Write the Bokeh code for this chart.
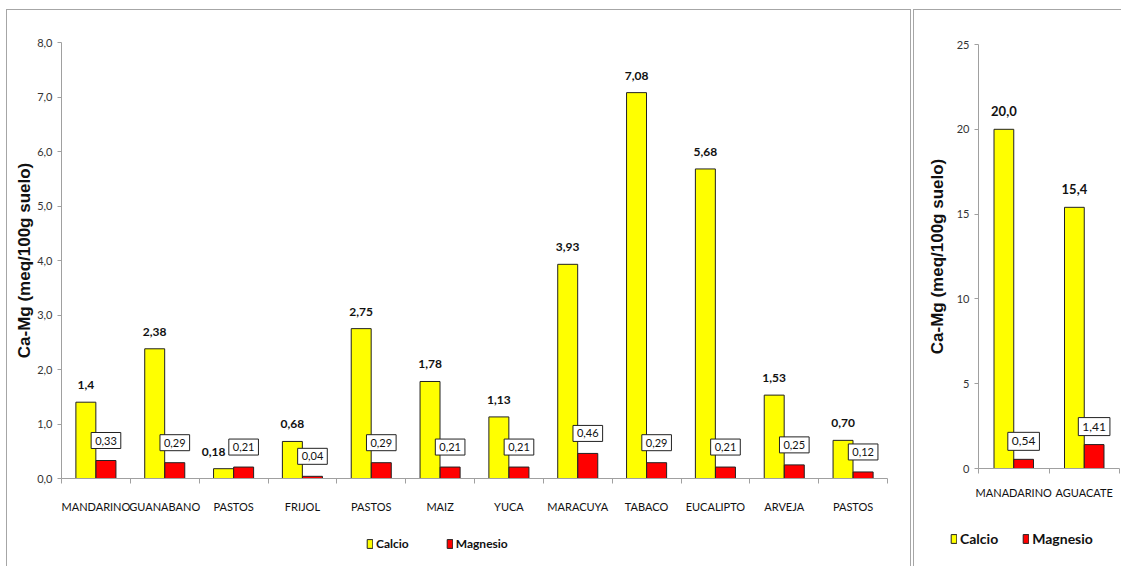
import numpy as np
from bokeh.plotting import figure
from bokeh.models import FixedTicker, Legend, LegendItem, Range1d, ColumnDataSource
from bokeh.layouts import row, column
from bokeh.embed import file_html
from bokeh.resources import INLINE
from bokeh.core.properties import value
from bokeh.transform import dodge

# ---------------- data ----------------
left_categories = ["MANDARINO", "GUANABANO", "PASTOS", "FRIJOL", "PASTOS", "MAIZ",
                   "YUCA", "MARACUYA", "TABACO", "EUCALIPTO", "ARVEJA", "PASTOS"]
left_calcio = [1.4, 2.38, 0.18, 0.68, 2.75, 1.78, 1.13, 3.93, 7.08, 5.68, 1.53, 0.70]
left_magnesio = [0.33, 0.29, 0.21, 0.04, 0.29, 0.21, 0.21, 0.46, 0.29, 0.21, 0.25, 0.12]
left_calcio_labels = ["1,4", "2,38", "0,18", "0,68", "2,75", "1,78", "1,13", "3,93",
                      "7,08", "5,68", "1,53", "0,70"]
left_magnesio_labels = ["0,33", "0,29", "0,21", "0,04", "0,29", "0,21", "0,21", "0,46",
                        "0,29", "0,21", "0,25", "0,12"]
left_y_ticks = [0, 1, 2, 3, 4, 5, 6, 7, 8]
left_y_tick_labels = ["0,0", "1,0", "2,0", "3,0", "4,0", "5,0", "6,0", "7,0", "8,0"]

right_categories = ["MANADARINO", "AGUACATE"]
right_calcio = [20.0, 15.4]
right_magnesio = [0.54, 1.41]
right_calcio_labels = ["20,0", "15,4"]
right_magnesio_labels = ["0,54", "1,41"]
right_y_ticks = [0, 5, 10, 15, 20, 25]
right_y_tick_labels = ["0", "5", "10", "15", "20", "25"]

series_names = ["Calcio", "Magnesio"]
y_title = "Ca-Mg (meq/100g suelo)"

FONT = "Lato"
AXIS_GRAY = "#a0a0a0"
BORDER = "1px solid #a6a6a6"
CA_COLOR = "#ffff00"
MG_COLOR = "#ff0000"
EDGE = "#222222"


def make_source(cats, ca, mg, ca_lab, mg_lab, yticks):
    n = len(cats)
    centers = [i + 0.5 for i in range(n)]
    span = yticks[-1] - yticks[0]
    # nudge a value label sideways when it would collide with the neighbouring box
    nudge = [-10 if (c - m) < 0.03 * span else 0 for c, m in zip(ca, mg)]
    return ColumnDataSource(dict(x=centers, ca=ca, mg=mg, ca_lab=ca_lab, mg_lab=mg_lab,
                                 nudge=nudge)), centers


def make_chart(src, centers, cats, yticks, ytick_labels,
               width, height, mb_left, mb_top, mb_bottom, mb_right, styles,
               bar_off, bar_w, fs_val, fs_box, fs_cat, fs_tick,
               box_gap, cat_standoff, ylab_standoff, box_pad):
    n = len(cats)
    p = figure(width=width, height=height, output_backend="svg", toolbar_location=None,
               x_range=Range1d(0, n), y_range=Range1d(yticks[0], yticks[-1]),
               min_border_left=mb_left, min_border_top=mb_top,
               min_border_bottom=mb_bottom, min_border_right=mb_right)
    p.outline_line_color = None
    p.xgrid.visible = False
    p.ygrid.visible = False
    p.background_fill_color = "white"
    p.border_fill_color = "white"
    p.styles = styles

    p.vbar(x=dodge("x", -bar_off), top="ca", width=bar_w, source=src,
           fill_color=CA_COLOR, line_color=EDGE, line_width=1)
    p.vbar(x=dodge("x", bar_off), top="mg", width=bar_w, source=src,
           fill_color=MG_COLOR, line_color=EDGE, line_width=1)

    p.text(x=dodge("x", -bar_off), y="ca", text="ca_lab", source=src,
           anchor="bottom_center", y_offset=-13, x_offset="nudge",
           text_font=value(FONT), text_font_style="bold", text_font_size=f"{fs_val}px",
           text_color="#111111")
    p.text(x=dodge("x", bar_off), y="mg", text="mg_lab", source=src,
           anchor="bottom_center", y_offset=-box_gap, padding=box_pad,
           background_fill_color="white", border_line_color=EDGE, border_line_width=1,
           text_font=value(FONT), text_font_size=f"{fs_box}px", text_color="#111111")

    # x axis: labels at centers, ticks at category boundaries
    xa = p.xaxis[0]
    xa.ticker = FixedTicker(ticks=centers, minor_ticks=list(range(n + 1)))
    xa.major_label_overrides = {c: name for c, name in zip(centers, cats)}
    xa.major_tick_out = 0
    xa.major_tick_in = 0
    xa.minor_tick_out = 5
    xa.minor_tick_in = 0
    xa.minor_tick_line_color = AXIS_GRAY
    xa.axis_line_color = AXIS_GRAY
    xa.major_label_standoff = cat_standoff
    xa.major_label_text_font = FONT
    xa.major_label_text_font_size = f"{fs_cat}px"
    xa.major_label_text_color = "#111111"

    ya = p.yaxis[0]
    ya.ticker = FixedTicker(ticks=yticks)
    ya.major_label_overrides = {t: l for t, l in zip(yticks, ytick_labels)}
    ya.major_tick_out = 4
    ya.major_tick_in = 0
    ya.minor_tick_out = 0
    ya.minor_tick_in = 0
    ya.major_tick_line_color = AXIS_GRAY
    ya.axis_line_color = AXIS_GRAY
    ya.major_label_standoff = 5
    ya.major_label_text_font = FONT
    ya.major_label_text_font_size = f"{fs_tick}px"
    ya.major_label_text_color = "#333333"
    ya.axis_label = y_title
    ya.axis_label_text_font = "Liberation Sans"
    ya.axis_label_text_font_style = "bold"
    ya.axis_label_text_font_size = "17px"
    ya.axis_label_text_color = "#111111"
    ya.axis_label_standoff = ylab_standoff
    return p


def make_legend_strip(src, width, height, styles, loc, spacing, fs_leg):
    # key glyphs share the chart's data but lie outside this strip's ranges,
    # so only their legend swatches are shown
    lp = figure(width=width, height=height, output_backend="svg", toolbar_location=None,
                x_range=Range1d(-20, -19), y_range=Range1d(-20, -19),
                x_axis_location=None, y_axis_location=None, min_border=0)
    lp.outline_line_color = None
    lp.grid.visible = False
    lp.background_fill_color = "white"
    lp.border_fill_color = "white"
    lp.styles = styles
    key_ca = lp.vbar(x="x", top="ca", width=0.1, source=src,
                     fill_color=CA_COLOR, line_color=EDGE)
    key_mg = lp.vbar(x="x", top="mg", width=0.1, source=src,
                     fill_color=MG_COLOR, line_color=EDGE)
    legend = Legend(items=[LegendItem(label=series_names[0], renderers=[key_ca]),
                           LegendItem(label=series_names[1], renderers=[key_mg])],
                    orientation="horizontal", location=loc,
                    glyph_width=7, glyph_height=11, label_standoff=3,
                    spacing=spacing, padding=0, margin=0,
                    border_line_color=None, background_fill_alpha=0,
                    label_text_font=FONT, label_text_font_style="bold",
                    label_text_font_size=f"{fs_leg}px", label_text_color="#111111")
    lp.add_layout(legend, "center")
    return lp


CHART_H = 512
LEG_H = 45

left_src, left_centers = make_source(left_categories, left_calcio, left_magnesio,
                                     left_calcio_labels, left_magnesio_labels, left_y_ticks)
right_src, right_centers = make_source(right_categories, right_calcio, right_magnesio,
                                       right_calcio_labels, right_magnesio_labels,
                                       right_y_ticks)

left_chart = make_chart(left_src, left_centers, left_categories, left_y_ticks,
                        left_y_tick_labels,
                        width=905, height=CHART_H, mb_left=54, mb_top=32, mb_bottom=44,
                        mb_right=25,
                        styles={"border-top": BORDER, "border-left": BORDER,
                                "border-right": BORDER, "box-sizing": "border-box"},
                        bar_off=0.146, bar_w=0.29, fs_val=12, fs_box=11, fs_cat=11,
                        fs_tick=11, box_gap=12, cat_standoff=16, ylab_standoff=0,
                        box_pad=(4, 4))
left_legend = make_legend_strip(left_src, 905, LEG_H,
                                {"border-left": BORDER, "border-right": BORDER,
                                 "box-sizing": "border-box"},
                                loc=(359, 15), spacing=37, fs_leg=12)

right_chart = make_chart(right_src, right_centers, right_categories, right_y_ticks,
                         right_y_tick_labels,
                         width=208, height=CHART_H, mb_left=64, mb_top=34, mb_bottom=54,
                         mb_right=3,
                         styles={"border-top": BORDER, "border-left": BORDER,
                                 "box-sizing": "border-box"},
                         bar_off=0.14, bar_w=0.28, fs_val=13, fs_box=12, fs_cat=11,
                         fs_tick=11, box_gap=9, cat_standoff=12, ylab_standoff=7,
                         box_pad=(4, 5))
right_legend = make_legend_strip(right_src, 208, LEG_H,
                                 {"border-left": BORDER, "box-sizing": "border-box"},
                                 loc=(36, 19), spacing=24, fs_leg=14)

layout = row(column(left_chart, row(left_legend), spacing=0),
             column(right_chart, row(right_legend), spacing=0),
             spacing=2, margin=(9, 0, 0, 6))
open("out.html", "w").write(file_html(layout, INLINE))
